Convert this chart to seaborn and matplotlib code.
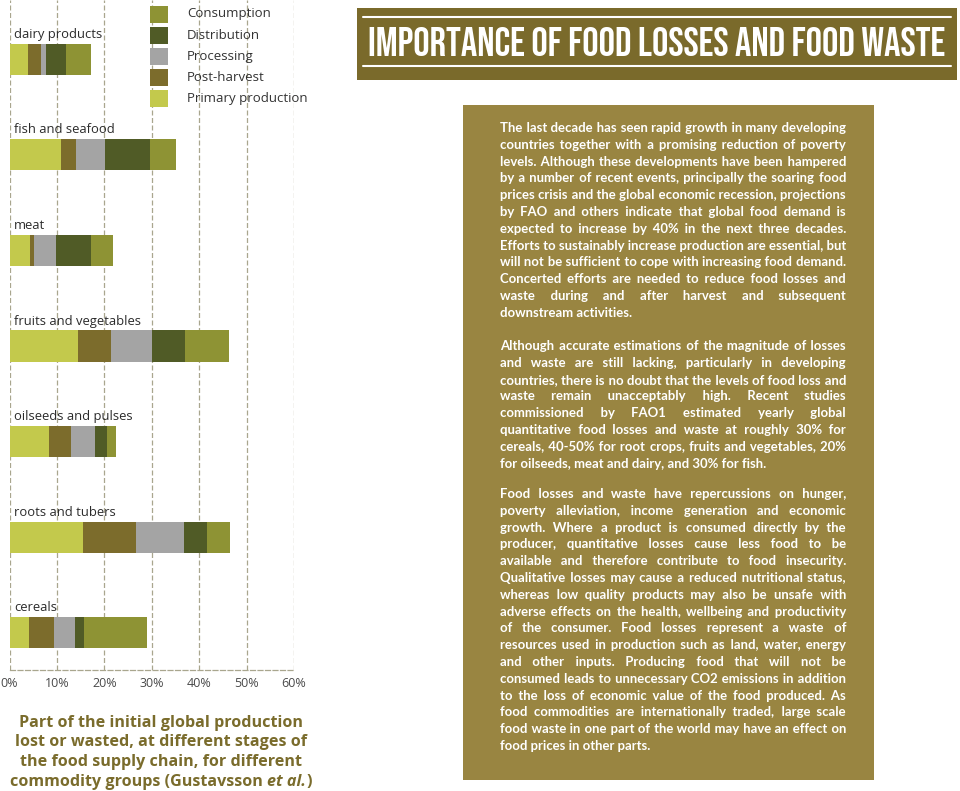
import matplotlib
matplotlib.use('Agg')
import matplotlib.pyplot as plt
import seaborn as sns
import pandas as pd
from matplotlib import font_manager
from matplotlib.patches import Rectangle
from matplotlib.lines import Line2D

# values (% of initial production lost at each stage)
categories = ['dairy products', 'fish and seafood', 'meat', 'fruits and vegetables',
              'oilseeds and pulses', 'roots and tubers', 'cereals']
stages = ['Primary production', 'Post-harvest', 'Processing', 'Distribution', 'Consumption']
primary = [3.8, 10.9, 4.3, 14.5, 8.3, 15.6, 4.1]
post_harvest = [2.8, 3.1, 0.9, 6.9, 4.7, 11.0, 5.3]
processing = [1.2, 6.2, 4.6, 8.7, 5.0, 10.1, 4.4]
distribution = [4.1, 9.5, 7.3, 6.9, 2.6, 5.0, 2.0]
consumption = [5.2, 5.4, 4.7, 9.2, 1.9, 4.7, 13.3]
stage_colors = ['#c3c94c', '#7c6c2c', '#a4a4a4', '#505b26', '#8e9334']
xticks = [0, 10, 20, 30, 40, 50, 60]

title = 'IMPORTANCE OF FOOD LOSSES AND FOOD WASTE'
caption = ['Part of the initial global production',
           'lost or wasted, at different stages of',
           'the food supply chain, for different',
           'commodity groups (Gustavsson ']

para1 = [
    "The last decade has seen rapid growth in many developing",
    "countries together with a promising reduction of poverty",
    "levels.  Although these developments have been hampered",
    "by a number of recent events, principally the soaring food",
    "prices crisis and the global economic recession, projections",
    "by FAO and others indicate that global food demand is",
    "expected to increase by 40% in the next three decades.",
    "Efforts to sustainably increase production are essential, but",
    "will not be sufficient to cope with increasing food demand.",
    "Concerted efforts are needed to reduce food losses and",
    "waste during and after harvest and subsequent",
    "downstream activities.",
]
para2 = [
    "Although accurate estimations of the magnitude of losses",
    "and waste are still lacking, particularly in developing",
    "countries, there is no doubt that the levels of food loss and",
    "waste remain unacceptably high. Recent studies",
    "commissioned by FAO1 estimated yearly global",
    "quantitative food losses and waste at roughly 30% for",
    "cereals, 40-50% for root crops, fruits and vegetables, 20%",
    "for oilseeds, meat and dairy, and 30% for fish.",
]
para3 = [
    "Food losses and waste have repercussions on hunger,",
    "poverty alleviation, income generation and economic",
    "growth. Where a product is consumed directly by the",
    "producer, quantitative losses cause less food to be",
    "available and therefore contribute to food insecurity.",
    "Qualitative losses may cause a reduced nutritional status,",
    "whereas low quality products may also be unsafe with",
    "adverse effects on the health, wellbeing and productivity",
    "of the consumer. Food losses represent a waste of",
    "resources used in production such as land, water, energy",
    "and other inputs. Producing food that will not be",
    "consumed leads to unnecessary CO2 emissions in addition",
    "to the loss of economic value of the food produced. As",
    "food commodities are internationally traded, large scale",
    "food waste in one part of the world may have an effect on",
    "food prices in other parts.",
]

sns.set_style('white')
plt.rcParams['font.family'] = ['Open Sans', 'DejaVu Sans']

W, H = 960, 791
fig = plt.figure(figsize=(9.6, 7.91), dpi=100)
renderer = fig.canvas.get_renderer()


def fx(x):
    return x / W


def fy(y):
    return 1 - y / H


def width_of(s, **kw):
    t = fig.text(0, 0, s, **kw)
    w = t.get_window_extent(renderer).width
    t.remove()
    return w


def fit(s, target, **kw):
    return 10 * target / width_of(s, fontsize=10, **kw)


names = {f.name for f in font_manager.fontManager.ttflist}
title_family = next((f for f in ['Bebas Neue', 'Oswald', 'Roboto Condensed',
                                 'Liberation Sans Narrow', 'DejaVu Sans']
                     if f in names), 'DejaVu Sans')

# ---- stacked bar chart ----
df = pd.DataFrame({'category': categories, 'Primary production': primary,
                   'Post-harvest': post_harvest, 'Processing': processing,
                   'Distribution': distribution, 'Consumption': consumption})
cum = df[stages].cumsum(axis=1)
cum['category'] = df['category']

ax = fig.add_axes([fx(9.5), fy(670), fx(294) - fx(9.5), fy(0) - fy(670)])
for stage, col in reversed(list(zip(stages, stage_colors))):
    sns.barplot(data=cum, x=stage, y='category', orient='h', color=col,
                saturation=1, width=0.325, linewidth=0, ax=ax)

ax.set_xlim(0, 60)
ax.set_ylim(6.39, -0.62)
ax.set_yticks([])
ax.set_xlabel('')
ax.set_ylabel('')
ax.set_xticks(xticks)
ax.set_xticklabels([f'{v}%' for v in xticks], fontsize=9, color='#4a4a4a')
ax.tick_params(axis='x', length=0, pad=5)
ax.grid(axis='x', linestyle=(0, (4, 2)), color='#a9a68e', linewidth=0.9)
ax.set_axisbelow(True)
for s in ['top', 'right', 'left']:
    ax.spines[s].set_visible(False)
ax.spines['bottom'].set_linestyle((0, (4, 2)))
ax.spines['bottom'].set_color('#a9a68e')
ax.spines['bottom'].set_linewidth(0.9)

cat_size = fit('fruits and vegetables', 127)
for i, name in enumerate(categories):
    ax.text(0.9, i - 0.26, name, fontsize=cat_size, color='#2b2b2b',
            ha='left', va='center')

# legend, top entry = last stage
leg_size = fit('Primary production', 120)
for j, (lab, col) in enumerate(zip(stages[::-1], stage_colors[::-1])):
    cy = 14 + 21.2 * j
    fig.add_artist(Rectangle((fx(150), fy(cy + 8.5)), 18 / W, 17 / H,
                             transform=fig.transFigure, color=col, lw=0))
    fig.text(fx(187), fy(cy), lab, fontsize=leg_size, color='#333333',
             ha='left', va='center')

# caption
cap_kw = dict(fontweight='bold', color='#7a6c2c', va='baseline')
cap_size = fit(caption[1], 293, **cap_kw)
for k, line in enumerate(caption[:3]):
    fig.text(fx(161), fy(727 + 19.5 * k), line, fontsize=cap_size,
             ha='center', **cap_kw)
w_a = width_of(caption[3], fontsize=cap_size, **cap_kw)
w_b = width_of('et al.', fontsize=cap_size, fontstyle='italic', **cap_kw)
w_c = width_of(')', fontsize=cap_size, **cap_kw)
x0 = 161 - (w_a + w_b + w_c) / 2
yl = fy(727 + 19.5 * 3)
fig.text(fx(x0), yl, caption[3], fontsize=cap_size, ha='left', **cap_kw)
fig.text(fx(x0 + w_a), yl, 'et al.', fontsize=cap_size, fontstyle='italic',
         ha='left', **cap_kw)
fig.text(fx(x0 + w_a + w_b), yl, ')', fontsize=cap_size, ha='left', **cap_kw)

# ---- title banner ----
fig.add_artist(Rectangle((fx(357), fy(80)), 600 / W, 72 / H,
                         transform=fig.transFigure, color='#7a6a2b', lw=0))
for yy in (17, 66):
    fig.add_artist(Line2D([fx(363), fx(951)], [fy(yy), fy(yy)],
                          transform=fig.transFigure, color='white', lw=1.5))
t_kw = dict(family=title_family, fontweight='bold', fontstretch='condensed')
t_size = min(fit(title, 583, **t_kw), 36)
fig.text(fx(657), fy(42), title, fontsize=t_size, color='white',
         ha='center', va='center', **t_kw)

# ---- text panel (justified) ----
fig.add_artist(Rectangle((fx(463), fy(780)), 411 / W, 675 / H,
                         transform=fig.transFigure, color='#998541', lw=0))
body_kw = dict(family=['Lato', 'DejaVu Sans'], fontweight='bold', color='white',
               va='baseline')
left, right = 500, 846
all_just = [l for p in (para1, para2, para3) for l in p[:-1]]
body_size = min(fit(l, right - left, **body_kw) for l in all_just)


def bw(s):
    return width_of(s, fontsize=body_size, **body_kw)


base = bw('aa')
space_w = (bw('a' + ' ' * 20 + 'a') - base) / 20
fill, fill_w = ' ', space_w
for cand in ('\u200a', '\u2009'):
    cw = (bw('a' + cand * 20 + 'a') - base) / 20
    if 0.3 < cw < space_w:
        fill, fill_w = cand, cw
        break


def justify(line):
    words = line.split()
    nat = sum(bw(w) for w in words)
    gap = (right - left - nat) / (len(words) - 1)
    out, err = words[0], 0.0
    for w in words[1:]:
        want = gap + err
        k1 = max(1, int(want // space_w))
        k2 = max(0, round((want - k1 * space_w) / fill_w))
        err = want - k1 * space_w - k2 * fill_w
        out += ' ' * k1 + fill * k2 + w
    return out


for para, y0 in ((para1, 132), (para2, 350), (para3, 498)):
    for k, line in enumerate(para):
        txt = line if k == len(para) - 1 else justify(line)
        fig.text(fx(left), fy(y0 + 16.8 * k), txt, fontsize=body_size,
                 ha='left', **body_kw)

fig.savefig('out.png', dpi=100, facecolor='white')
